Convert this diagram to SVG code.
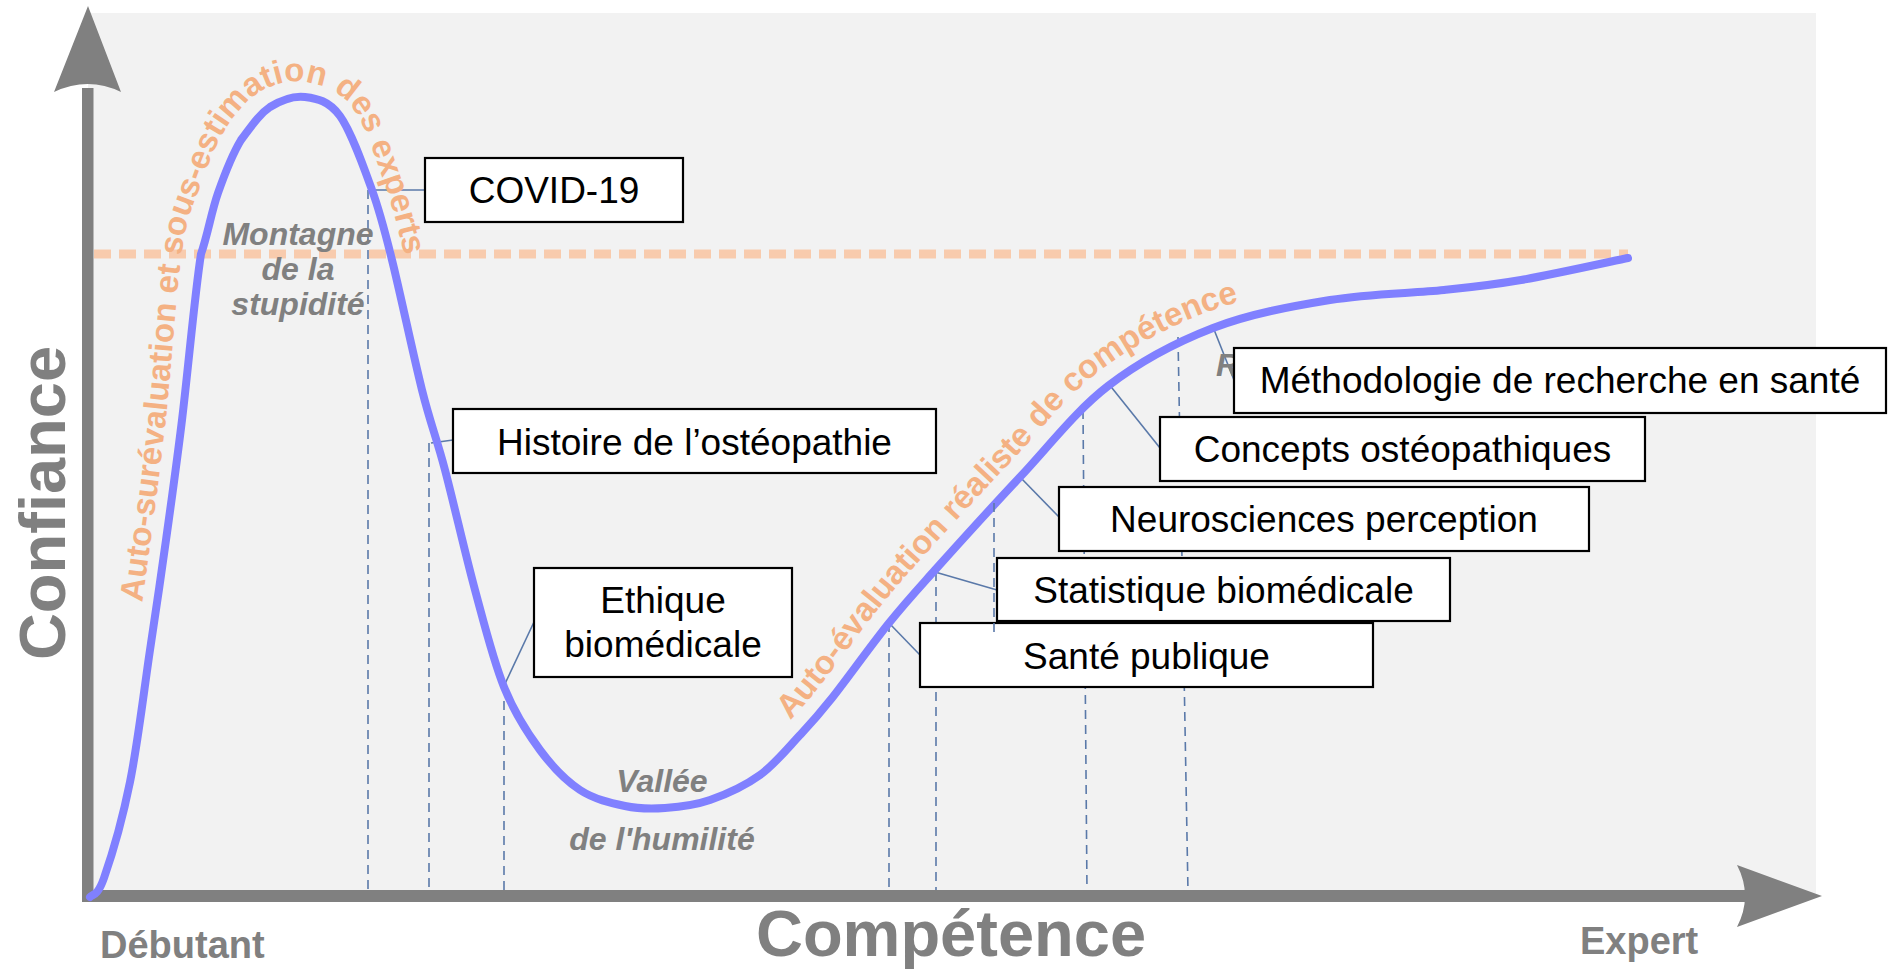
<svg xmlns="http://www.w3.org/2000/svg" width="1888" height="976" viewBox="0 0 1888 976">
<style>
.box{fill:#fff;stroke:#000;stroke-width:2.2}
.bt{font-family:"Liberation Sans",Arial,sans-serif;font-size:37px;fill:#000;text-anchor:middle}
.conn{stroke:#5a79a9;stroke-width:1.6;fill:none}
.drop{stroke:#5a79a9;stroke-width:1.6;stroke-dasharray:9 6;fill:none}
.lbl{font-family:"Liberation Sans",Arial,sans-serif;font-weight:bold;font-style:italic;font-size:32px;fill:#808080;text-anchor:middle}
.or{font-family:"Liberation Sans",Arial,sans-serif;font-weight:bold;font-size:33px;fill:#F4B183}
.ax{font-family:"Liberation Sans",Arial,sans-serif;font-weight:bold;fill:#808080}
.axis{fill:#808080}
</style>
<defs>
<path id="tp1" d="M 137 640 C 139.3 623, 146.2 575, 151 538 C 155.8 501, 160.8 465.8, 166 418 C 171.2 370.2, 176.3 289.5, 182 251 C 187.7 212.5, 192.8 207.2, 200 187 C 207.2 166.8, 215 145.8, 225 130 C 235 114.2, 246.7 100, 260 92 C 273.3 84, 289.7 79.5, 305 82 C 320.3 84.5, 338.7 89.8, 352 107 C 365.3 124.2, 376.2 160, 385 185 C 393.8 210, 399.2 234.5, 405 257 C 410.8 279.5, 417.5 309.5, 420 320"/>
<path id="tp2" d="M 790.5 726 C 802.2 713.7, 807.3 708.5, 822 690 C 836.8 671.5, 861.8 636.5, 879 615 C 896.2 593.5, 903 585.5, 925 561 C 947 536.5, 981.8 498.8, 1011 468 C 1040.2 437.2, 1067.2 401.3, 1100 376 C 1132.8 350.7, 1170 330.8, 1208 316 C 1246 301.2, 1289.3 293.5, 1328 287"/>
</defs>
<rect width="1888" height="976" fill="#fff"/>
<rect id="panel" x="88" y="13" width="1728" height="884" fill="#F2F2F2"/>
<line id="plateau" x1="94" y1="254" x2="1628" y2="254" stroke="#F8CBAD" stroke-width="9" stroke-dasharray="17 8"/>

<g id="connectors">
<line class="drop" x1="368" y1="190" x2="368" y2="892"/>
<line class="drop" x1="429" y1="443" x2="429" y2="892"/>
<line class="drop" x1="504" y1="686" x2="504" y2="892"/>
<line class="drop" x1="889" y1="623" x2="889" y2="892"/>
<line class="drop" x1="936" y1="572" x2="936" y2="892"/>
<line class="drop" x1="1083" y1="410" x2="1087" y2="892"/>
<line class="drop" x1="1178" y1="337" x2="1188" y2="892"/>
<line class="conn" x1="425" y1="190" x2="368" y2="190"/>
<line class="conn" x1="453" y1="440" x2="431" y2="443"/>
<line class="conn" x1="534" y1="622" x2="504" y2="686"/>
<line class="conn" x1="920" y1="655" x2="889" y2="623"/>
<line class="conn" x1="997" y1="590" x2="935" y2="572"/>
<line class="conn" x1="1059" y1="517" x2="1020" y2="477"/>
<line class="conn" x1="1160" y1="448" x2="1108" y2="383"/>
<line class="conn" x1="1234" y1="380" x2="1213" y2="327"/>
</g>

<g id="axes">
<rect class="axis" x="82" y="88" width="11.5" height="814"/>
<path class="axis" d="M 54 92 L 88 6 L 121 92 Q 88 76 54 92 Z"/>
<rect class="axis" x="82" y="890" width="1665" height="12"/>
<path class="axis" d="M 1737 865 L 1822 896 L 1737 927 Q 1753 896 1737 865 Z"/>
</g>

<path id="curve" d="M 90 897 C 92.3 893.8, 97.3 897.2, 104 878 C 110.7 858.8, 122.3 820, 130 782 C 137.7 744, 144 690.3, 150 650 C 156 609.7, 160.7 578.3, 166 540 C 171.3 501.7, 176.2 467.7, 182 420 C 187.8 372.3, 195 291.8, 201 254 C 207.7 235, 211.3 212, 218 193 C 224.7 174, 232.3 154.3, 241 140 C 251.7 125.7, 259.3 114.2, 270 107 C 281.7 99.8, 293.3 95.5, 305 97 C 316.7 98.5, 328.8 100.5, 340 116 C 351.2 131.5, 363.3 166, 372 190 C 380.7 214, 383.7 226.7, 392 260 C 400.3 293.3, 413.2 355, 422 390 C 430.8 425, 436.2 436.7, 445 470 C 453.8 503.3, 465.2 553.8, 475 590 C 484.8 626.2, 493.2 660.3, 504 687 C 514.8 713.7, 527.3 732.8, 540 750 C 552.7 767.2, 565.8 780.7, 580 790 C 594.2 799.3, 610.8 803, 625 806 C 639.2 809, 650.8 809, 665 808 C 679.2 807, 694.2 805.5, 710 800 C 725.8 794.5, 745 785.8, 760 775 C 775 764.2, 788 747.8, 800 735 C 812 722.2, 817.2 716.7, 832 698 C 846.8 679.3, 871.8 644.3, 889 623 C 906.2 601.7, 913.2 594.3, 935 570 C 956.8 545.7, 991.2 507.7, 1020 477 C 1048.8 446.3, 1075.8 410.8, 1108 386 C 1140.2 361.2, 1176 342.3, 1213 328 C 1250 313.7, 1291.5 306.3, 1330 300 C 1368.5 293.7, 1412.2 293.3, 1444 290 C 1475.8 286.7, 1490.3 285.3, 1521 280 C 1551.7 274.7, 1610.2 261.7, 1628 258" fill="none" stroke="#8080FF" stroke-width="8" stroke-linecap="round"/>

<g id="orange-labels">
<text class="or"><textPath href="#tp1" startOffset="38">Auto-surévaluation et sous-estimation des experts</textPath></text>
<text class="or" transform="translate(-3,-3)"><textPath href="#tp2" startOffset="4">Auto-évaluation réaliste de compétence</textPath></text>
</g>

<g id="zone-labels">
<text class="lbl" x="298" y="245">Montagne</text>
<text class="lbl" x="298" y="280">de la</text>
<text class="lbl" x="298" y="315">stupidité</text>
<text class="lbl" x="662" y="792">Vallée</text>
<text class="lbl" x="662" y="850">de l'humilité</text>
<text class="lbl" x="1216" y="376" style="text-anchor:start">R</text>
</g>

<g id="covid"><rect class="box" x="425" y="158" width="258" height="64"/><text class="bt" x="554" y="203">COVID-19</text></g>
<g id="histoire"><rect class="box" x="453" y="409" width="483" height="64"/><text class="bt" x="694.5" y="455">Histoire de l’ostéopathie</text></g>
<g id="ethique"><rect class="box" x="534" y="568" width="258" height="109"/><text class="bt" x="663" y="613">Ethique</text><text class="bt" x="663" y="657">biomédicale</text></g>
<g id="sante"><rect class="box" x="920" y="623" width="453" height="64"/><text class="bt" x="1146.5" y="669">Santé publique</text></g>
<line id="drop-extra" class="drop" x1="994" y1="503" x2="994" y2="637"/>
<g id="statistique"><rect class="box" x="997" y="558" width="453" height="63"/><text class="bt" x="1223.5" y="603">Statistique biomédicale</text></g>
<g id="neuro"><rect class="box" x="1059" y="487" width="530" height="64"/><text class="bt" x="1324" y="532">Neurosciences perception</text></g>
<g id="concepts"><rect class="box" x="1160" y="417" width="485" height="64"/><text class="bt" x="1402.5" y="462">Concepts ostéopathiques</text></g>
<g id="methodo"><rect class="box" x="1234" y="348" width="652" height="65"/><text class="bt" x="1560" y="393">Méthodologie de recherche en santé</text></g>

<g id="axis-labels">
<text class="ax" font-size="65" transform="translate(65,503) rotate(-90)" text-anchor="middle">Confiance</text>
<text class="ax" font-size="65" x="951" y="956" text-anchor="middle">Compétence</text>
<text class="ax" font-size="38" x="100" y="958">Débutant</text>
<text class="ax" font-size="38" x="1580" y="954">Expert</text>
</g>
</svg>
